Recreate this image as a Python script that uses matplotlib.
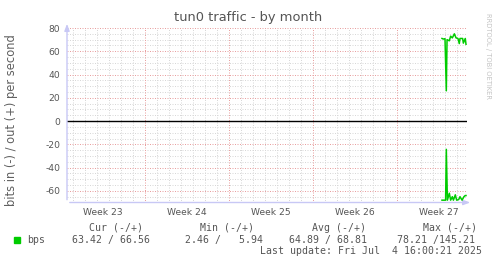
import matplotlib
matplotlib.use("Agg")
import matplotlib.pyplot as plt
import numpy as np

# ---- data (days relative to start of week 24 boundary) ----
week_labels = ["Week 23", "Week 24", "Week 25", "Week 26", "Week 27"]
week_label_days = [-3.5, 3.5, 10.5, 17.5, 24.5]
week_boundaries = [0, 7, 14, 21]

out_days = [24.75, 24.86, 25.0, 25.11, 25.17, 25.36, 25.47, 25.61, 25.78,
            25.92, 26.08, 26.19, 26.25, 26.47, 26.53, 26.69, 26.75]
out_vals = [71.0, 70.5, 70.8, 26.0, 70.0, 69.0, 73.0, 71.5, 75.0,
            71.5, 71.0, 66.6, 71.0, 71.0, 67.0, 71.0, 66.0]

in_days = [24.75, 25.05, 25.11, 25.2, 25.36, 25.47, 25.61, 25.7, 25.86,
           25.97, 26.14, 26.25, 26.42, 26.58, 26.69, 26.75]
in_vals = [68.0, 68.0, 24.3, 68.0, 62.0, 68.0, 65.0, 68.0, 63.4,
           68.0, 67.5, 65.0, 68.0, 65.0, 64.0, 64.0]

legend_name = "bps"
cur_text = "63.42 / 66.56"
min_text = " 2.46 /   5.94"
avg_text = "64.89 / 68.81"
max_text = "78.21 /145.21"
last_update = "Last update: Fri Jul  4 16:00:21 2025"
title = "tun0 traffic - by month"
ylabel = "bits in (-) / out (+) per second"

W, H = 497, 264
fig = plt.figure(figsize=(W / 100, H / 100), dpi=100)
fig.patch.set_facecolor("white")

def fx(px):
    return px / W

def fy(py):
    return 1 - py / H

left, right, top, bottom = 67, 467, 28, 202.5
ax = fig.add_axes([fx(left), fy(bottom), fx(right) - fx(left), (bottom - top) / H])
ax.set_facecolor("white")

x0 = (left - 145) / 12.0
x1 = (right - 145) / 12.0
ax.set_xlim(x0, x1)
ax.set_ylim(-70, 80)

minor_col = "#d8d8d8"
major_col = "#e8a0a0"
gkw = dict(lw=0.72, ls=(0, (1, 1.5)))
# minor grid
for d in np.arange(np.ceil(x0), x1 + 0.01, 1):
    if int(round(d)) % 7 != 0:
        ax.axvline(d, color=minor_col, zorder=1, **gkw)
for v in np.arange(-70, 81, 5):
    if v % 20 != 0:
        ax.axhline(v, color=minor_col, zorder=1, **gkw)
# major grid
for d in week_boundaries:
    ax.axvline(d, color=major_col, zorder=2, **gkw)
for v in np.arange(-60, 81, 20):
    if v != 0:
        ax.axhline(v, color=major_col, zorder=2, **gkw)
ax.axhline(0, color="black", lw=1.0, zorder=3)

green = "#00cc00"
ax.plot(out_days, out_vals, color=green, lw=1.1, zorder=5)
ax.plot(in_days, [-v for v in in_vals], color=green, lw=1.1, zorder=5)

for s in ["top", "right", "left", "bottom"]:
    ax.spines[s].set_visible(False)

axis_col = "#c8c8f5"
ax.annotate("", xy=(0, 1.04), xytext=(0, 0), xycoords="axes fraction",
            arrowprops=dict(arrowstyle="-|>,head_width=0.15,head_length=0.4",
                            color=axis_col, lw=1), annotation_clip=False)
ax.annotate("", xy=(1.015, 0), xytext=(0, 0), xycoords="axes fraction",
            arrowprops=dict(arrowstyle="-|>,head_width=0.15,head_length=0.4",
                            color=axis_col, lw=1), annotation_clip=False)

text_col = "#555555"
ax.set_yticks(list(range(-60, 81, 20)))
ax.set_yticklabels([str(v) for v in range(-60, 81, 20)])
ax.set_xticks(week_label_days)
ax.set_xticklabels(week_labels)
ax.tick_params(axis="both", length=0, labelsize=6.6, colors=text_col)
ax.tick_params(axis="y", pad=5)
ax.tick_params(axis="x", pad=4)

fig.text(fx(248), fy(18), title, ha="center", va="center", fontsize=9.4, color=text_col)
fig.text(fx(12), fy(120), ylabel, ha="center", va="center", rotation=90,
         fontsize=8.3, color="#606060")
fig.text(fx(488), fy(56), "RRDTOOL / TOBI OETIKER", ha="center", va="center",
         rotation=-90, fontsize=4.9, color="#c4c4c4")

mono = "DejaVu Sans Mono"
fs = 7.1
ly_head, ly_val, ly_last = 228, 240, 251.5
fig.patches.append(plt.Rectangle((fx(14), fy(243)), 6 / W, 6 / H,
                                 transform=fig.transFigure, color=green))
fig.text(fx(27), fy(ly_val), legend_name, family=mono, fontsize=fs, va="center", color=text_col)

def col(xv, xh, head, txt):
    fig.text(fx(xh), fy(ly_head), head, family=mono, fontsize=fs, va="center", color=text_col)
    fig.text(fx(xv), fy(ly_val), txt, family=mono, fontsize=fs, va="center", color=text_col)

col(72, 89, "Cur (-/+)", cur_text)
col(179, 200.5, "Min (-/+)", min_text)
col(289.3, 312.3, "Avg (-/+)", avg_text)
col(397.3, 422.7, "Max (-/+)", max_text)
fig.text(fx(482.3), fy(ly_last), last_update, family=mono, fontsize=fs,
         va="center", ha="right", color=text_col)

fig.savefig("out.png", dpi=100, facecolor="white")
